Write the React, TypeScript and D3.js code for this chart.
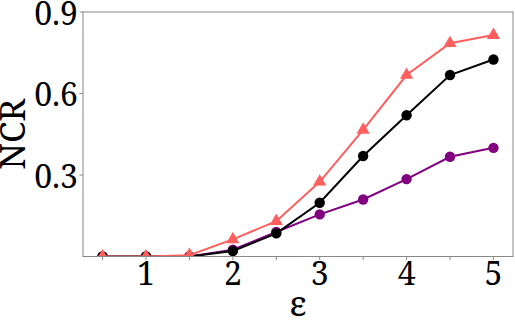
import React from 'react';
import * as d3 from 'd3';

const epsilons = [0.5, 1, 1.5, 2, 2.5, 3, 3.5, 4, 4.5, 5];
const purpleSeries = [0, 0, 0, 0.025, 0.09, 0.155, 0.21, 0.285, 0.367, 0.4];
const blackSeries = [0, 0, 0, 0.02, 0.085, 0.198, 0.37, 0.52, 0.668, 0.725];
const redSeries = [0, 0, 0.005, 0.063, 0.13, 0.275, 0.466, 0.668, 0.785, 0.815];
const xTickLabels = [1, 2, 3, 4, 5];
const xTicksAll = [0.5, 1, 1.5, 2, 2.5, 3, 3.5, 4, 4.5, 5];
const yTickLabels = [0.3, 0.6, 0.9];

const W = 515;
const H = 321;
const left = 83;
const right = 513;
const top = 12;
const bottom = 256.5;

const App = () => {
  const x = d3.scaleLinear().domain([0.275, 5.225]).range([left, right]);
  const y = d3.scaleLinear().domain([0, 0.9]).range([bottom, top]);

  const line = d3
    .line<number>()
    .x((_, i) => x(epsilons[i]))
    .y((d) => y(d));

  const tri = d3.symbol().type(d3.symbolTriangle).size(75)();
  const axisColor = '#888';
  // Liberation Serif falls back to a sans face above ~30px here, Noto Serif keeps its serifs
  const font = 'Noto Serif, Liberation Serif, serif';

  const series = [
    { vals: purpleSeries, color: '#800080', marker: 'circle' },
    { vals: blackSeries, color: '#000000', marker: 'circle' },
    { vals: redSeries, color: '#ff5e5e', marker: 'triangle' },
  ];

  return (
    <svg
      width={W}
      height={H}
      style={{ position: 'absolute', left: 0, top: 0, background: '#fff' }}
      fontFamily={font}
    >
      <defs>
        <clipPath id="plot">
          <rect x={left} y={top} width={right - left} height={bottom - top} />
        </clipPath>
      </defs>

      <g clipPath="url(#plot)">
        {series.map((s, si) => (
          <g key={si}>
            <path d={line(s.vals) || ''} fill="none" stroke={s.color} strokeWidth={2} />
            {s.vals.map((v, i) =>
              s.marker === 'circle' ? (
                <circle key={i} cx={x(epsilons[i])} cy={y(v)} r={5.2} fill={s.color} />
              ) : (
                <path
                  key={i}
                  d={tri || ''}
                  transform={`translate(${x(epsilons[i])},${y(v)})`}
                  fill={s.color}
                />
              )
            )}
          </g>
        ))}
      </g>

      <rect
        x={left}
        y={top}
        width={right - left}
        height={bottom - top}
        fill="none"
        stroke={axisColor}
        strokeWidth={1}
      />

      {xTicksAll.map((t) => (
        <line key={t} x1={x(t)} x2={x(t)} y1={bottom} y2={bottom + 3.5} stroke={axisColor} strokeWidth={1} />
      ))}
      {xTickLabels.map((t) => (
        <text key={t} x={x(t)} y={bottom + 28.5} textAnchor="middle" fontSize={32}>
          {t}
        </text>
      ))}

      {yTickLabels.map((t) => (
        <g key={t}>
          <line x1={left - 3.5} x2={left} y1={y(t)} y2={y(t)} stroke={axisColor} strokeWidth={1} />
          <text x={left - 5} y={y(t) + 12.5} textAnchor="end" fontSize={32}>
            {t.toFixed(1)}
          </text>
        </g>
      ))}

      <text
        transform={`translate(25,${(top + bottom) / 2}) rotate(-90)`}
        textAnchor="middle"
        fontSize={35}
      >
        NCR
      </text>
      <text x={(left + right) / 2} y={316} textAnchor="middle" fontSize={35}>
        ε
      </text>
    </svg>
  );
};

export default App;
